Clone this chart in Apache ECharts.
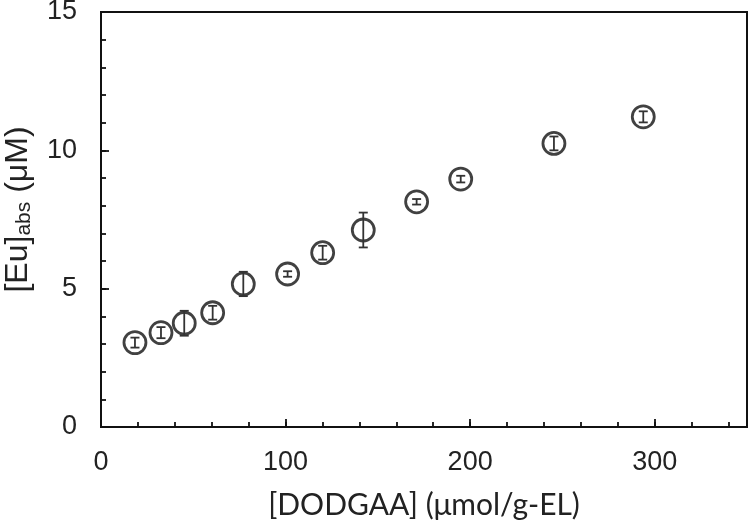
<!DOCTYPE html>
<html>
<head>
<meta charset="utf-8">
<script src="https://cdn.jsdelivr.net/npm/echarts@6/dist/echarts.min.js"></script>
<style>html,body{margin:0;padding:0;background:#fff}#chart{width:750px;height:525px}</style>
</head>
<body>
<div id="chart"></div>
<script>
// Data
const dodgaa = [18.4, 32.5, 45.1, 60.5, 77.1, 101.1, 120.1, 142.1, 171.0, 194.9, 245.4, 293.8];
const euAbs  = [3.05, 3.41, 3.75, 4.13, 5.17, 5.53, 6.30, 7.12, 8.14, 8.96, 10.25, 11.21];
const euErr  = [0.18, 0.20, 0.45, 0.25, 0.44, 0.10, 0.25, 0.63, 0.10, 0.12, 0.25, 0.20];
const xTickLabels = [0, 100, 200, 300];
const yTickLabels = [0, 5, 10, 15];

const points = dodgaa.map((x, i) => [x, euAbs[i]]);
const errs = dodgaa.map((x, i) => [x, euAbs[i], euErr[i]]);

const chart = echarts.init(document.getElementById('chart'), null, {renderer: 'canvas'});
const tickFont = {fontFamily: 'Liberation Sans, Arial, sans-serif', fontSize: 27, color: '#222'};

chart.setOption({
  animation: false,
  grid: {left: 101, right: 3, top: 12, bottom: 98, show: true, borderColor: '#111', borderWidth: 2,
         containLabel: false, outerBoundsMode: 'none'},
  xAxis: [{
    type: 'value', min: 0, max: 350, interval: 20,
    axisLine: {show: true, lineStyle: {color: '#111', width: 2}},
    axisTick: {show: true, inside: true, length: 5, lineStyle: {color: '#111', width: 1.8}},
    splitLine: {show: false},
    axisLabel: Object.assign({margin: 22, showMaxLabel: false,
      formatter: v => xTickLabels.indexOf(v) >= 0 ? String(v) : ''}, tickFont),
    name: '[DODGAA] (μmol/g-EL)', nameLocation: 'middle', nameGap: 63,
    nameTextStyle: {fontFamily: 'Lato, sans-serif', fontSize: 30, color: '#222'}
  }, {
    type: 'value', min: 0, max: 350, interval: 100, position: 'bottom',
    axisLine: {show: false}, splitLine: {show: false}, axisLabel: {show: false},
    axisTick: {show: true, inside: true, length: 8, lineStyle: {color: '#111', width: 1.8}}
  }],
  yAxis: [{
    type: 'value', min: 0, max: 15, interval: 1,
    axisLine: {show: true, lineStyle: {color: '#111', width: 2}},
    axisTick: {show: true, inside: true, length: 5, lineStyle: {color: '#111', width: 1.8}},
    splitLine: {show: false},
    axisLabel: Object.assign({margin: 24,
      formatter: v => yTickLabels.indexOf(v) >= 0 ? String(v) : ''}, tickFont),
    name: '{a|[Eu]}{b|abs}{a| (μM)}', nameLocation: 'middle', nameGap: 66, nameRotate: 90,
    nameTextStyle: {
      padding: [0, 0, 0, 20],
      rich: {
        a: {fontFamily: 'Liberation Sans, Arial, sans-serif', fontSize: 32, color: '#222', lineHeight: 34},
        b: {fontFamily: 'Liberation Sans, Arial, sans-serif', fontSize: 21, color: '#222', lineHeight: 34, verticalAlign: 'bottom', padding: [14, 0, 0, 0]}
      }
    }
  }, {
    type: 'value', min: 0, max: 15, interval: 5, position: 'left',
    axisLine: {show: false}, splitLine: {show: false}, axisLabel: {show: false},
    axisTick: {show: true, inside: true, length: 8, lineStyle: {color: '#111', width: 1.8}}
  }],
  series: [{
    type: 'scatter', data: points, symbol: 'circle', symbolSize: 22, z: 2,
    itemStyle: {color: 'rgba(255,255,255,0)', borderColor: '#111', borderWidth: 2.8}
  }, {
    type: 'custom', data: errs, z: 3,
    renderItem: function (params, api) {
      const x = api.value(0), y = api.value(1), e = api.value(2);
      const top = api.coord([x, y + e]);
      const bot = api.coord([x, y - e]);
      const hw = 4.5;
      const st = {stroke: '#333', lineWidth: 1.8};
      return {type: 'group', children: [
        {type: 'line', shape: {x1: top[0], y1: top[1], x2: bot[0], y2: bot[1]}, style: st},
        {type: 'line', shape: {x1: top[0] - hw, y1: top[1], x2: top[0] + hw, y2: top[1]}, style: st},
        {type: 'line', shape: {x1: bot[0] - hw, y1: bot[1], x2: bot[0] + hw, y2: bot[1]}, style: st}
      ]};
    }
  }]
});
</script>
</body>
</html>
